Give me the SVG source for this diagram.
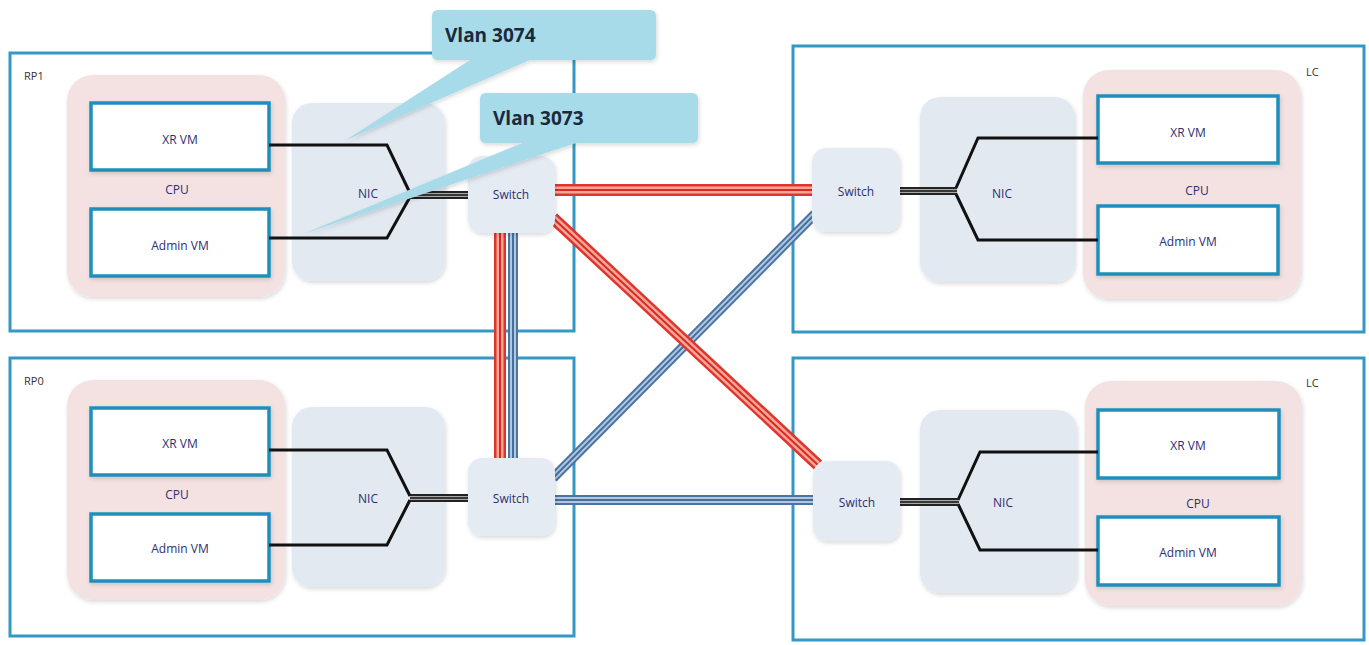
<svg xmlns="http://www.w3.org/2000/svg" width="1369" height="645" viewBox="0 0 1369 645">
<defs>
<filter id="sh" x="-10%" y="-10%" width="130%" height="130%">
<feDropShadow dx="1" dy="2" stdDeviation="2" flood-color="#000" flood-opacity="0.15"/>
</filter>
</defs>
<style>
.card{fill:#fff;stroke:#3399c4;stroke-width:3}
.cpu{fill:#f4e2e2;filter:url(#sh)}
.nic{fill:#e3e9f1;filter:url(#sh)}
.sw{fill:#e5ebf3;filter:url(#sh)}
.vm{fill:#fff;stroke:#1f8fbd;stroke-width:3.5;filter:url(#sh)}
.t{font-family:"Open Sans","Liberation Sans",sans-serif;font-size:12px;fill:#2e2e70;text-anchor:middle}
.lbl{font-family:"Open Sans","Liberation Sans",sans-serif;font-size:11px;fill:#333}
.vl{font-family:"Open Sans","Liberation Sans",sans-serif;font-size:19px;font-weight:bold;fill:#1b2a3a}
.blk{fill:none;stroke:#111;stroke-width:3;stroke-linejoin:miter}
.bk1{fill:none;stroke:#222;stroke-width:8}
.bk2{fill:none;stroke:#aaa;stroke-width:4}
.bk3{fill:none;stroke:#111;stroke-width:1.5}
.r1{fill:none;stroke:#e0352a;stroke-width:12}
.r2{fill:none;stroke:#f5a79c;stroke-width:7}
.r3{fill:none;stroke:#d92a20;stroke-width:2}
.b1{fill:none;stroke:#4a74a6;stroke-width:10}
.b2{fill:none;stroke:#b4c8dd;stroke-width:6}
.b3{fill:none;stroke:#44709f;stroke-width:2}
.callout{fill:#a7dbe9;filter:url(#sh)}
</style>
<rect width="1369" height="645" fill="#fff"/>

<g id="RP1">
<rect class="card" x="10" y="53" width="564" height="278"/>
<text class="lbl" x="24" y="80">RP1</text>
<rect class="cpu" x="67" y="75" width="218" height="222" rx="26"/>
<rect class="nic" x="292" y="103" width="153" height="178" rx="20"/>
<rect class="vm" x="91" y="103" width="178" height="67"/>
<text class="t" x="180" y="144">XR VM</text>
<rect class="vm" x="91" y="209" width="178" height="67"/>
<text class="t" x="180" y="250">Admin VM</text>
<text class="t" x="177" y="194">CPU</text>
<text class="t" x="368" y="198">NIC</text>
</g>

<g id="RP0">
<rect class="card" x="10" y="358" width="564" height="278"/>
<text class="lbl" x="24" y="385">RP0</text>
<rect class="cpu" x="67" y="380" width="218" height="220" rx="26"/>
<rect class="nic" x="292" y="407" width="153" height="180" rx="20"/>
<rect class="vm" x="91" y="408" width="178" height="67"/>
<text class="t" x="180" y="448">XR VM</text>
<rect class="vm" x="91" y="514" width="178" height="67"/>
<text class="t" x="180" y="553">Admin VM</text>
<text class="t" x="177" y="499">CPU</text>
<text class="t" x="368" y="503">NIC</text>
</g>

<g id="LC1">
<rect class="card" x="793" y="46" width="571" height="286"/>
<text class="lbl" x="1306" y="76">LC</text>
<rect class="nic" x="920" y="97" width="155" height="185" rx="20"/>
<rect class="cpu" x="1083" y="70" width="218" height="229" rx="26"/>
<rect class="vm" x="1098" y="96" width="180" height="67"/>
<text class="t" x="1188" y="137">XR VM</text>
<rect class="vm" x="1098" y="206" width="180" height="68"/>
<text class="t" x="1188" y="246">Admin VM</text>
<text class="t" x="1197" y="195">CPU</text>
<text class="t" x="1002" y="198">NIC</text>
</g>

<g id="LC2">
<rect class="card" x="793" y="358" width="571" height="282"/>
<text class="lbl" x="1306" y="387">LC</text>
<rect class="nic" x="920" y="410" width="157" height="183" rx="20"/>
<rect class="cpu" x="1085" y="381" width="217" height="225" rx="26"/>
<rect class="vm" x="1098" y="410" width="181" height="68"/>
<text class="t" x="1188" y="450">XR VM</text>
<rect class="vm" x="1098" y="517" width="181" height="68"/>
<text class="t" x="1188" y="557">Admin VM</text>
<text class="t" x="1198" y="508">CPU</text>
<text class="t" x="1003" y="507">NIC</text>
</g>

<g id="connectors">
<!-- internal black links -->
<polyline class="blk" points="269,145 387,145 410,193"/>
<polyline class="blk" points="269,238 387,238 410,197"/>
<line class="bk1" x1="410" y1="195" x2="468" y2="195"/>
<line class="bk2" x1="410" y1="195" x2="468" y2="195"/>
<line class="bk3" x1="410" y1="195" x2="468" y2="195"/>

<polyline class="blk" points="269,450 387,450 410,496"/>
<polyline class="blk" points="269,545 387,545 410,500"/>
<line class="bk1" x1="410" y1="498" x2="468" y2="498"/>
<line class="bk2" x1="410" y1="498" x2="468" y2="498"/>
<line class="bk3" x1="410" y1="498" x2="468" y2="498"/>

<polyline class="blk" points="1098,138 978,138 956,188"/>
<polyline class="blk" points="1098,240 978,240 956,194"/>
<line class="bk1" x1="899" y1="191" x2="957" y2="191"/>
<line class="bk2" x1="899" y1="191" x2="957" y2="191"/>
<line class="bk3" x1="899" y1="191" x2="957" y2="191"/>

<polyline class="blk" points="1098,452 980,452 958,500"/>
<polyline class="blk" points="1098,550 980,550 958,504"/>
<line class="bk1" x1="900" y1="502" x2="959" y2="502"/>
<line class="bk2" x1="900" y1="502" x2="959" y2="502"/>
<line class="bk3" x1="900" y1="502" x2="959" y2="502"/>

<!-- blue links -->
<g>
<line class="b1" x1="513" y1="232" x2="513" y2="458"/>
<line class="b2" x1="513" y1="232" x2="513" y2="458"/>
<line class="b3" x1="513" y1="232" x2="513" y2="458"/>
<line class="b1" x1="553" y1="478" x2="815" y2="214"/>
<line class="b2" x1="553" y1="478" x2="815" y2="214"/>
<line class="b3" x1="553" y1="478" x2="815" y2="214"/>
<line class="b1" x1="554" y1="500" x2="813" y2="500"/>
<line class="b2" x1="554" y1="500" x2="813" y2="500"/>
<line class="b3" x1="554" y1="500" x2="813" y2="500"/>
</g>
<!-- red links -->
<g>
<line class="r1" x1="500" y1="232" x2="500" y2="458"/>
<line class="r2" x1="500" y1="232" x2="500" y2="458"/>
<line class="r3" x1="500" y1="232" x2="500" y2="458"/>
<line class="r1" x1="554" y1="190" x2="813" y2="190"/>
<line class="r2" x1="554" y1="190" x2="813" y2="190"/>
<line class="r3" x1="554" y1="190" x2="813" y2="190"/>
<line class="r1" x1="553" y1="218" x2="818" y2="465"/>
<line class="r2" x1="553" y1="218" x2="818" y2="465"/>
<line class="r3" x1="553" y1="218" x2="818" y2="465"/>
</g>
</g>

<g id="SW-RP1">
<rect class="sw" x="468" y="156" width="87" height="77" rx="14"/>
<text class="t" x="511" y="199">Switch</text>
</g>
<g id="SW-RP0">
<rect class="sw" x="468" y="458" width="87" height="78" rx="14"/>
<text class="t" x="511" y="503">Switch</text>
</g>
<g id="SW-LC1">
<rect class="sw" x="812" y="148" width="88" height="84" rx="14"/>
<text class="t" x="856" y="196">Switch</text>
</g>
<g id="SW-LC2">
<rect class="sw" x="813" y="461" width="87" height="80" rx="14"/>
<text class="t" x="857" y="507">Switch</text>
</g>

<g id="vlan3074">
<path class="callout" d="M438,10 H650 Q656,10 656,16 V54 Q656,60 650,60 H530 L346,140 L470,60 H438 Q432,60 432,54 V16 Q432,10 438,10 Z"/>
<text class="vl" x="445" y="42">Vlan 3074</text>
</g>
<g id="vlan3073">
<path class="callout" d="M486,93 H692 Q698,93 698,99 V137 Q698,143 692,143 H576 L303,234 L522,143 H486 Q480,143 480,137 V99 Q480,93 486,93 Z"/>
<text class="vl" x="493" y="125">Vlan 3073</text>
</g>
</svg>
